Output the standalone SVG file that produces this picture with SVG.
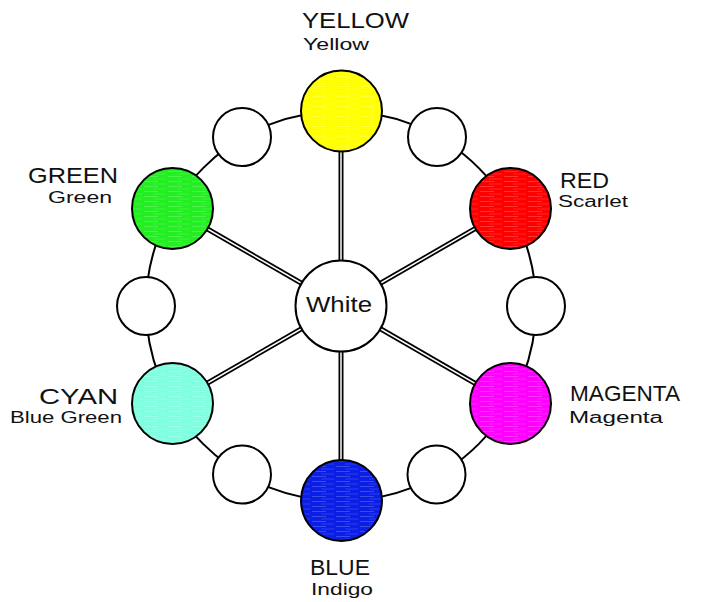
<svg xmlns="http://www.w3.org/2000/svg" width="707" height="602" viewBox="0 0 707 602">
<defs>
<pattern id="hatch" patternUnits="userSpaceOnUse" width="24" height="5">
<line x1="0" y1="1.5" x2="14" y2="1.5" stroke="#fff" stroke-opacity="0.2" stroke-width="1"/>
<line x1="9" y1="4" x2="22" y2="4" stroke="#fff" stroke-opacity="0.15" stroke-width="1"/>
</pattern>
</defs>
<style>
.ring{fill:none;stroke:#000;stroke-width:2}
.spokeO{stroke:#000;stroke-width:5}
.spokeI{stroke:#fff;stroke-width:1.5}
.big{stroke:#000;stroke-width:2}
.small{fill:#fff;stroke:#000;stroke-width:2}
.h{fill:url(#hatch);stroke:none}
.t1{font-family:"Liberation Sans",Arial,sans-serif;font-size:22px;fill:#111}
.t2{font-family:"Liberation Sans",Arial,sans-serif;font-size:16px;fill:#111}
</style>
<rect width="707" height="602" fill="#fff"/>
<circle class="ring" cx="341" cy="306" r="195"/>
<g id="connectors">
<g class="spokeO">
<line x1="341" y1="306" x2="341" y2="111"/>
<line x1="341" y1="306" x2="341" y2="501"/>
<line x1="341" y1="306" x2="510" y2="208.5"/>
<line x1="341" y1="306" x2="510" y2="403.5"/>
<line x1="341" y1="306" x2="172" y2="208.5"/>
<line x1="341" y1="306" x2="172" y2="403.5"/>
</g>
<g class="spokeI">
<line x1="341" y1="306" x2="341" y2="111"/>
<line x1="341" y1="306" x2="341" y2="501"/>
<line x1="341" y1="306" x2="510" y2="208.5"/>
<line x1="341" y1="306" x2="510" y2="403.5"/>
<line x1="341" y1="306" x2="172" y2="208.5"/>
<line x1="341" y1="306" x2="172" y2="403.5"/>
</g>
</g>
<g id="white">
<circle cx="341" cy="306" r="45.5" fill="#fff" stroke="#000" stroke-width="2"/>
<text class="t1" x="306" y="312" font-size="20" textLength="66" lengthAdjust="spacingAndGlyphs">White</text>
</g>
<g id="yellow">
<circle class="big" cx="341.5" cy="111" r="40.5" fill="#ffff00"/>
<circle class="h" cx="341.5" cy="111" r="39"/>
<text class="t1" x="302" y="28" textLength="107" lengthAdjust="spacingAndGlyphs">YELLOW</text>
<text class="t2" x="303" y="50" textLength="66" lengthAdjust="spacingAndGlyphs">Yellow</text>
</g>
<g id="red">
<circle class="big" cx="510.5" cy="208.5" r="40.5" fill="#ff0000"/>
<circle class="h" cx="510.5" cy="208.5" r="39"/>
<text class="t1" x="560" y="188" textLength="49" lengthAdjust="spacingAndGlyphs">RED</text>
<text class="t2" x="558" y="207" textLength="70" lengthAdjust="spacingAndGlyphs">Scarlet</text>
</g>
<g id="magenta">
<circle class="big" cx="510.5" cy="403.5" r="40.5" fill="#ff00ff"/>
<circle class="h" cx="510.5" cy="403.5" r="39"/>
<text class="t1" x="570" y="401" textLength="110" lengthAdjust="spacingAndGlyphs">MAGENTA</text>
<text class="t2" x="569" y="423" textLength="94" lengthAdjust="spacingAndGlyphs">Magenta</text>
</g>
<g id="blue">
<circle class="big" cx="341.5" cy="500.5" r="40.5" fill="#0a1ee6"/>
<circle class="h" cx="341.5" cy="500.5" r="39"/>
<text class="t1" x="310" y="575" textLength="60" lengthAdjust="spacingAndGlyphs">BLUE</text>
<text class="t2" x="311" y="595" textLength="62" lengthAdjust="spacingAndGlyphs">Indigo</text>
</g>
<g id="cyan">
<circle class="big" cx="172.5" cy="403.5" r="40.5" fill="#7fffe0"/>
<circle class="h" cx="172.5" cy="403.5" r="39"/>
<text class="t1" x="39" y="404" textLength="79" lengthAdjust="spacingAndGlyphs">CYAN</text>
<text class="t2" x="10" y="423" textLength="112" lengthAdjust="spacingAndGlyphs">Blue Green</text>
</g>
<g id="green">
<circle class="big" cx="172.5" cy="208.5" r="40.5" fill="#22ee22"/>
<circle class="h" cx="172.5" cy="208.5" r="39"/>
<text class="t1" x="28" y="183" textLength="90" lengthAdjust="spacingAndGlyphs">GREEN</text>
<text class="t2" x="48" y="203" textLength="64" lengthAdjust="spacingAndGlyphs">Green</text>
</g>
<g id="small-1"><circle class="small" cx="242" cy="137" r="29"/></g>
<g id="small-2"><circle class="small" cx="437" cy="137" r="29"/></g>
<g id="small-3"><circle class="small" cx="536" cy="306" r="29"/></g>
<g id="small-4"><circle class="small" cx="436.5" cy="474.5" r="29"/></g>
<g id="small-5"><circle class="small" cx="242" cy="474.5" r="29"/></g>
<g id="small-6"><circle class="small" cx="146" cy="306" r="29"/></g>
</svg>
